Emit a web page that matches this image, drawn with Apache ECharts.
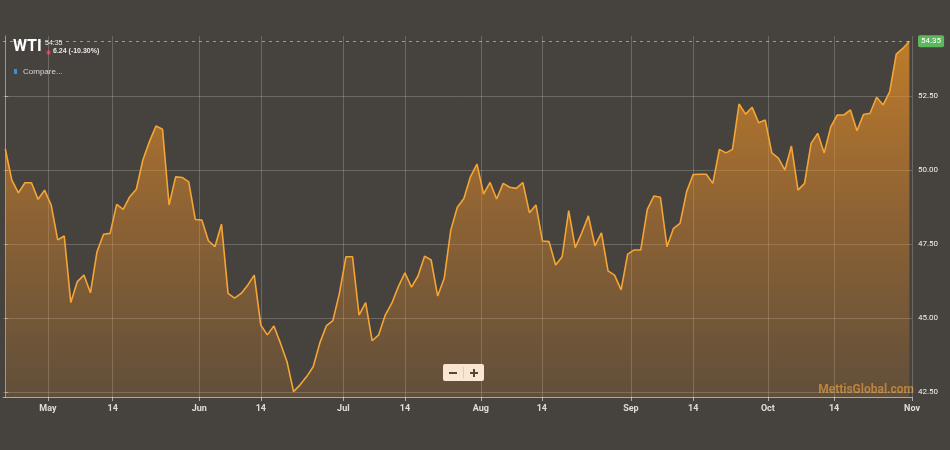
<!DOCTYPE html>
<html>
<head>
<meta charset="utf-8">
<script src="https://cdn.jsdelivr.net/npm/echarts@6/dist/echarts.min.js"></script>
<style>
  html, body { margin: 0; padding: 0; background: #46423d; }
  #chart { width: 950px; height: 450px; }
</style>
</head>
<body>
<div id="chart"></div>
<script>
// WTI daily closes, one per trading day (late Apr -> 31 Oct)
const prices = [
  50.71, 49.66, 49.23, 49.57, 49.57, 49.01, 49.32, 48.82, 47.64, 47.77,
  45.52, 46.23, 46.45, 45.85, 47.24, 47.83, 47.86, 48.84, 48.67, 49.10,
  49.35, 50.34, 50.96, 51.49, 51.38, 48.82, 49.77, 49.75, 49.60, 48.33,
  48.31, 47.61, 47.41, 48.17, 45.83, 45.67, 45.83, 46.11, 46.45, 44.76,
  44.43, 44.73, 44.15, 43.52, 42.51, 42.74, 43.02, 43.35, 44.15, 44.73,
  44.91, 45.83, 47.07, 47.07, 45.10, 45.52, 44.23, 44.43, 45.10, 45.50,
  46.06, 46.53, 46.04, 46.42, 47.09, 46.96, 45.74, 46.34, 47.97, 48.74,
  49.04, 49.77, 50.20, 49.19, 49.58, 49.02, 49.55, 49.42, 49.38, 49.58,
  48.56, 48.82, 47.60, 47.58, 46.79, 47.07, 48.63, 47.38, 47.88, 48.45,
  47.44, 47.88, 46.59, 46.45, 45.95, 47.16, 47.30, 47.30, 48.67, 49.12,
  49.08, 47.41, 48.03, 48.20, 49.27, 49.85, 49.86, 49.86, 49.55, 50.70,
  50.58, 50.70, 52.23, 51.89, 52.12, 51.60, 51.69, 50.58, 50.40, 50.00,
  50.81, 49.32, 49.55, 50.90, 51.24, 50.58, 51.46, 51.86, 51.86, 52.03,
  51.33, 51.88, 51.92, 52.46, 52.20, 52.65, 53.92, 54.11, 54.35
];
const lastPrice = 54.35;

// x ticks sit between trading days (index units)
const xTickPos = [6.5, 16.4, 29.6, 39.0, 51.6, 61.0, 72.6, 81.9, 95.5, 105.0, 116.4, 126.5, 138.4];
const xTickLabels = ['May', '14', 'Jun', '14', 'Jul', '14', 'Aug', '14', 'Sep', '14', 'Oct', '14', 'Nov'];
const yTicks = [42.5, 45, 47.5, 50, 52.5];

const chart = echarts.init(document.getElementById('chart'));
const gridColor = 'rgba(255,255,255,0.2)';

chart.setOption({
  backgroundColor: '#46423d',
  animation: false,
  textStyle: { fontFamily: 'Roboto, sans-serif' },
  grid: { left: 3, right: 38, top: 36, bottom: 53 },
  xAxis: {
    type: 'value',
    min: -0.35,
    max: 138.4,
    axisLine: { show: true, lineStyle: { color: 'rgba(255,255,255,0.55)', width: 1 } },
    axisTick: { show: true, customValues: xTickPos, length: 4, lineStyle: { color: 'rgba(255,255,255,0.55)' } },
    axisLabel: {
      customValues: xTickPos,
      color: '#e0dcd6', fontSize: 9, fontWeight: 'bold', margin: 7,
      formatter: v => {
        let best = 0;
        xTickPos.forEach((p, i) => { if (Math.abs(p - v) < Math.abs(xTickPos[best] - v)) best = i; });
        return xTickLabels[best];
      }
    },
    splitLine: { show: true, lineStyle: { color: gridColor } }
  },
  yAxis: {
    type: 'value',
    position: 'right',
    min: 42.33,
    max: 54.53,
    axisLine: { show: true, lineStyle: { color: 'rgba(255,255,255,0.45)' } },
    axisTick: { show: true, customValues: yTicks, length: 3, lineStyle: { color: 'rgba(255,255,255,0.45)' } },
    axisLabel: { customValues: yTicks, color: '#f2f2f2', fontSize: 8, margin: 6, formatter: v => v.toFixed(2) },
    splitLine: { show: true, lineStyle: { color: gridColor } }
  },
  series: [{
    type: 'line',
    data: prices.map((v, i) => [i, v]),
    symbol: 'none',
    lineStyle: { color: '#f5a536', width: 1.6 },
    areaStyle: {
      color: new echarts.graphic.LinearGradient(0, 0, 0, 1, [
        { offset: 0, color: 'rgba(242,148,34,1)' },
        { offset: 0.5, color: 'rgba(232,140,40,0.62)' },
        { offset: 1, color: 'rgba(225,140,45,0.25)' }
      ])
    },
    markLine: {
      silent: true,
      symbol: 'none',
      lineStyle: { color: 'rgba(255,255,255,0.45)', type: [3, 4], width: 1 },
      label: {
        show: true, position: 'end', formatter: lastPrice.toFixed(2),
        color: '#fff', fontSize: 8, backgroundColor: '#5cb85c',
        padding: [2, 3], borderRadius: 2, distance: 6
      },
      data: [{ yAxis: lastPrice }]
    }
  }],
  graphic: [
    { type: 'text', left: 13, top: 39, style: { text: 'WTI', fill: '#fff', fontSize: 16, fontWeight: 'bold', fontFamily: 'Roboto' } },
    { type: 'text', left: 45, top: 40, style: { text: '54.35', fill: '#e8e8e8', fontSize: 7 } },
    { type: 'circle', shape: { cx: 48.5, cy: 52.5, r: 2.2 }, style: { fill: '#e0304a' } },
    { type: 'text', left: 53, top: 48, style: { text: '6.24 (-10.30%)', fill: '#e8e8e8', fontSize: 7, fontWeight: 'bold' } },
    { type: 'rect', shape: { x: 14, y: 69, width: 3, height: 5 }, style: { fill: '#3a8fd8' } },
    { type: 'text', left: 23, top: 68, style: { text: 'Compare...', fill: '#d8d8d8', fontSize: 8 } },
    { type: 'text', right: 36, top: 384, style: { text: 'MettisGlobal.com', fill: 'rgba(214,150,66,0.75)', fontSize: 12, fontWeight: 'bold', fontFamily: 'Roboto' } },
    { type: 'rect', shape: { x: 443, y: 364, width: 41, height: 17, r: 2 }, style: { fill: '#fff' } },
    { type: 'line', shape: { x1: 463.5, y1: 367, x2: 463.5, y2: 378 }, style: { stroke: '#ddd', lineWidth: 1 } },
    { type: 'rect', shape: { x: 449, y: 372, width: 8, height: 2 }, style: { fill: '#333' } },
    { type: 'rect', shape: { x: 470, y: 372, width: 8, height: 2 }, style: { fill: '#333' } },
    { type: 'rect', shape: { x: 473, y: 369, width: 2, height: 8 }, style: { fill: '#333' } }
  ]
});
</script>
</body>
</html>
